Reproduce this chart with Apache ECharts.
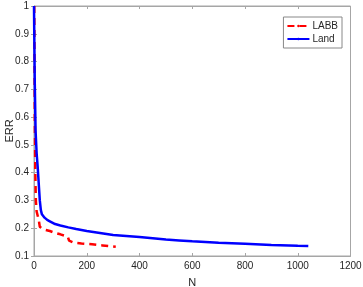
<!DOCTYPE html>
<html><head><meta charset="utf-8">
<script src="https://cdn.jsdelivr.net/npm/echarts@6/dist/echarts.min.js"></script>
<style>html,body{margin:0;padding:0;background:#fff}#c{width:363px;height:287px}</style>
</head><body><div id="c"></div>
<script>
var landN   = [0, 1, 3, 6, 10, 14, 18, 22, 26, 30, 35, 40, 50, 60, 80, 100, 130, 160, 200, 250, 300, 350, 400, 450, 500, 550, 600, 700, 800, 900, 1000, 1040];
var landErr = [1.0, 0.9, 0.72, 0.55, 0.47, 0.42, 0.36, 0.3, 0.265, 0.25, 0.243, 0.238, 0.23, 0.225, 0.215, 0.21, 0.203, 0.197, 0.19, 0.183, 0.176, 0.172, 0.168, 0.164, 0.159, 0.156, 0.153, 0.148, 0.144, 0.14, 0.137, 0.136];
var labbN   = [1, 2, 3, 5, 7, 10, 14, 18, 22, 28, 40, 60, 80, 100, 120, 128, 133, 150, 180, 220, 260, 310];
var labbErr = [1.0, 0.8, 0.6, 0.4, 0.3, 0.26, 0.245, 0.23, 0.205, 0.2, 0.195, 0.19, 0.183, 0.178, 0.172, 0.17, 0.155, 0.148, 0.145, 0.142, 0.138, 0.133];
var xTicks = [0, 200, 400, 600, 800, 1000, 1200];
var yTicks = [0.1, 0.2, 0.3, 0.4, 0.5, 0.6, 0.7, 0.8, 0.9, 1];

function pairs(xs, ys){ return xs.map(function(x,i){ return [x, ys[i]]; }); }
var chart = echarts.init(document.getElementById('c'), null, {renderer:'canvas'});
var font = 'Liberation Sans, Arial, sans-serif';
var axisGray = '#a6a6a6';
var txt = '#262626';
chart.setOption({
  animation: false,
  backgroundColor: '#fff',
  grid: {left: 34, right: 12.5, top: 6, bottom: 31, show: true, borderColor: axisGray, borderWidth: 1, containLabel: false, outerBoundsMode: 'none'},
  legend: {
    right: 21, top: 17, orient: 'vertical', itemWidth: 22, itemHeight: 3, itemGap: 3,
    padding: [4, 4, 4, 3], borderColor: '#888', borderWidth: 1, backgroundColor: '#fff',
    textStyle: {fontFamily: font, fontSize: 10, color: txt, padding: [0,0,0,-2]},
    data: ['LABB', 'Land']
  },
  xAxis: [{
    type: 'value', min: xTicks[0], max: xTicks[xTicks.length-1], interval: 200,
    name: 'N', nameLocation: 'middle', nameGap: 21, nameMoveOverlap: false,
    nameTextStyle: {fontFamily: font, fontSize: 11, color: txt},
    axisLine: {show: true, lineStyle: {color: axisGray}},
    axisTick: {show: true, inside: true, length: 3, lineStyle: {color: axisGray}},
    axisLabel: {fontFamily: font, fontSize: 10, color: txt, margin: 5, formatter: function(v){ return String(v); }},
    splitLine: {show: false}
  }, {
    type: 'value', position: 'top', min: xTicks[0], max: xTicks[xTicks.length-1], interval: 200,
    axisLine: {show: true, lineStyle: {color: axisGray}},
    axisTick: {show: true, inside: true, length: 3, lineStyle: {color: axisGray}},
    axisLabel: {show: false}, splitLine: {show: false}
  }],
  yAxis: [{
    type: 'value', min: 0.1, max: 1, interval: 0.1,
    name: 'ERR', nameLocation: 'middle', nameGap: 19, nameRotate: 90, nameMoveOverlap: false,
    nameTextStyle: {fontFamily: font, fontSize: 11, color: txt},
    axisLine: {show: true, lineStyle: {color: axisGray}},
    axisTick: {show: true, inside: true, length: 3, lineStyle: {color: axisGray}},
    axisLabel: {fontFamily: font, fontSize: 10, color: txt, margin: 5,
      formatter: function(v){ return String(Math.round(v*10)/10); }},
    splitLine: {show: false}
  }, {
    type: 'value', position: 'right', min: 0.1, max: 1, interval: 0.1,
    axisLine: {show: true, lineStyle: {color: axisGray}},
    axisTick: {show: true, inside: true, length: 3, lineStyle: {color: axisGray}},
    axisLabel: {show: false}, splitLine: {show: false}
  }],
  series: [{
    name: 'LABB', type: 'line', data: pairs(labbN, labbErr), showSymbol: false, symbol: 'none',
    lineStyle: {color: '#ff0000', width: 2.5, type: [7, 5]}, itemStyle: {color: '#ff0000'}, z: 2
  }, {
    name: 'Land', type: 'line', data: pairs(landN, landErr), showSymbol: false, symbol: 'none',
    lineStyle: {color: '#0000ff', width: 2.5}, itemStyle: {color: '#0000ff'}, z: 3
  }]
});
</script></body></html>
